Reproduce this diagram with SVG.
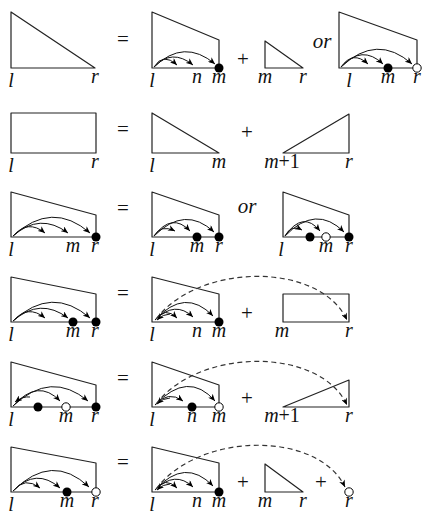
<svg xmlns="http://www.w3.org/2000/svg" width="423" height="519" viewBox="0 0 423 519">
<defs>
<style>
.sh{fill:none;stroke:#222;stroke-width:1.2;stroke-linejoin:round}
.arc{fill:none;stroke:#111;stroke-width:1;marker-end:url(#ah)}
.dash{fill:none;stroke:#333;stroke-width:1.2;stroke-dasharray:5 3.5;marker-end:url(#ah)}
.lb{font-family:"Liberation Serif",serif;font-style:italic;font-size:20px;text-anchor:middle;fill:#111}
.up{font-style:normal}
.op{font-family:"Liberation Serif",serif;font-size:21px;text-anchor:middle;fill:#111}
.or{font-family:"Liberation Serif",serif;font-style:italic;font-size:21px;text-anchor:middle;fill:#111}
.fd{fill:#000}
.od{fill:#fff;stroke:#000;stroke-width:1}
</style>
<marker id="ah" markerWidth="8" markerHeight="6" refX="7" refY="3" orient="auto" markerUnits="userSpaceOnUse"><path d="M0,0 L7,3 L0,6 L2,3 Z" fill="#000"/></marker>
</defs>
<rect width="423" height="519" fill="#fff"/>

<!-- Row 1 -->
<g id="r1-tri"><path class="sh" d="M11,12 L11,68 L95,68 Z"/><text class="lb" x="11" y="87">l</text><text class="lb" x="95" y="83">r</text></g>
<text class="op" x="123" y="46">=</text>
<g id="r1-trap"><path class="sh" d="M152,12 L152,68 L219,68 L219,40 Z"/><text class="lb" x="152" y="87">l</text><text class="lb" x="197" y="83">n</text><text class="lb" x="219" y="83">m</text></g>
<text class="op" x="243" y="66">+</text>
<g id="r1-small"><path class="sh" d="M265,41 L265,68 L303,68 Z"/><text class="lb" x="265" y="83">m</text><text class="lb" x="303" y="83">r</text></g>
<text class="or" x="322" y="48">or</text>
<g id="r1-trap2"><path class="sh" d="M339,12 L339,68 L417,68 L417,40 Z"/><text class="lb" x="349" y="87">l</text><text class="lb" x="388" y="83">m</text><text class="lb" x="417" y="83">r</text></g>

<!-- Row 2 -->
<g id="r2-rect"><rect class="sh" x="11" y="113" width="85" height="40"/><text class="lb" x="11" y="172">l</text><text class="lb" x="95" y="168">r</text></g>
<text class="op" x="123" y="136">=</text>
<g id="r2-tri"><path class="sh" d="M152,113 L152,153 L219,153 Z"/><text class="lb" x="152" y="172">l</text><text class="lb" x="219" y="168">m</text></g>
<text class="op" x="247" y="139">+</text>
<g id="r2-tri2"><path class="sh" d="M283,153 L349,153 L349,114 Z"/><text class="lb" x="282" y="168">m<tspan class="up">+1</tspan></text><text class="lb" x="349" y="168">r</text></g>

<!-- Row 3 -->
<g id="r3-trap"><path class="sh" d="M11,192 L11,237 L96,237 L96,215 Z"/><text class="lb" x="11" y="256">l</text><text class="lb" x="73" y="252">m</text><text class="lb" x="95" y="252">r</text></g>
<text class="op" x="123" y="215">=</text>
<g id="r3-trap2"><path class="sh" d="M152,192 L152,237 L219,237 L219,215 Z"/><text class="lb" x="152" y="256">l</text><text class="lb" x="197" y="252">m</text><text class="lb" x="219" y="252">r</text></g>
<text class="or" x="247" y="213">or</text>
<g id="r3-trap3"><path class="sh" d="M283,192 L283,237 L349,237 L349,215 Z"/><text class="lb" x="281" y="256">l</text><text class="lb" x="326" y="252">m</text><text class="lb" x="349" y="252">r</text></g>

<!-- Row 4 -->
<g id="r4-trap"><path class="sh" d="M11,277 L11,322 L96,322 L96,294 Z"/><text class="lb" x="11" y="341">l</text><text class="lb" x="73" y="337">m</text><text class="lb" x="95" y="337">r</text></g>
<text class="op" x="123" y="300">=</text>
<g id="r4-trap2"><path class="sh" d="M152,277 L152,322 L219,322 L219,294 Z"/><text class="lb" x="152" y="341">l</text><text class="lb" x="197" y="337">n</text><text class="lb" x="219" y="337">m</text></g>
<text class="op" x="247" y="320">+</text>
<g id="r4-rect"><rect class="sh" x="283" y="294" width="66" height="28"/><text class="lb" x="282" y="337">m</text><text class="lb" x="349" y="337">r</text></g>

<!-- Row 5 -->
<g id="r5-trap"><path class="sh" d="M11,362 L11,407 L96,407 L96,385 Z"/><text class="lb" x="11" y="426">l</text><text class="lb" x="66" y="422">m</text><text class="lb" x="95" y="422">r</text></g>
<text class="op" x="123" y="385">=</text>
<g id="r5-trap2"><path class="sh" d="M152,362 L152,407 L219,407 L219,385 Z"/><text class="lb" x="152" y="426">l</text><text class="lb" x="192" y="422">n</text><text class="lb" x="219" y="422">m</text></g>
<text class="op" x="247" y="405">+</text>
<g id="r5-tri"><path class="sh" d="M283,407 L349,407 L349,380 Z"/><text class="lb" x="282" y="422">m<tspan class="up">+1</tspan></text><text class="lb" x="349" y="422">r</text></g>

<!-- Row 6 -->
<g id="r6-trap"><path class="sh" d="M11,447 L11,492 L96,492 L96,463 Z"/><text class="lb" x="11" y="511">l</text><text class="lb" x="67" y="507">m</text><text class="lb" x="95" y="507">r</text></g>
<text class="op" x="123" y="469">=</text>
<g id="r6-trap2"><path class="sh" d="M152,447 L152,492 L219,492 L219,463 Z"/><text class="lb" x="152" y="511">l</text><text class="lb" x="197" y="507">n</text><text class="lb" x="219" y="507">m</text></g>
<text class="op" x="243" y="489">+</text>
<g id="r6-small"><path class="sh" d="M265,464 L265,492 L303,492 Z"/><text class="lb" x="265" y="507">m</text><text class="lb" x="303" y="507">r</text></g>
<text class="op" x="321" y="489">+</text>
<g id="r6-point"><text class="lb" x="349" y="507">r</text></g>

<g id="connectors">
<!-- row 1 -->
<path class="arc" d="M154,67 Q184,38 215,64"/>
<path class="arc" d="M154,67 Q172,48 193,65"/>
<path class="arc" d="M154,67 Q163,52 177,65"/>
<path class="arc" d="M341,67 Q377,33 412,64"/>
<path class="arc" d="M341,67 Q362,44 383,64"/>
<path class="arc" d="M341,67 Q353,50 368,64"/>
<!-- row 3 -->
<path class="arc" d="M13,236 Q52,200 90,233"/>
<path class="arc" d="M13,236 Q40,212 68,233"/>
<path class="arc" d="M13,236 Q28,219 45,233"/>
<path class="arc" d="M154,236 Q185,205 214,232"/>
<path class="arc" d="M154,236 Q172,212 190,231"/>
<path class="arc" d="M154,236 Q161,224 175,231"/>
<path class="arc" d="M285,236 Q316,204 344,232"/>
<path class="arc" d="M285,236 Q303,210 320,231"/>
<path class="arc" d="M285,236 Q291,224 302,230"/>
<!-- row 4 -->
<path class="arc" d="M13,321 Q52,285 90,318"/>
<path class="arc" d="M13,321 Q40,297 68,318"/>
<path class="arc" d="M13,321 Q28,304 45,318"/>
<path class="arc" d="M155,320 Q185,287 213,316"/>
<path class="arc" d="M155,320 Q175,300 193,317"/>
<path class="arc" d="M155,320 Q165,306 177,318"/>
<path class="arc" d="M170,314 Q163,314 157,320"/>
<path class="dash" d="M156,319 C200,262 320,262 347,320"/>
<!-- row 5 -->
<path class="arc" d="M13,406 Q51,370 88,401"/>
<path class="arc" d="M13,406 Q38,378 60,401"/>
<path class="arc" d="M30,397 Q23,396 15,402"/>
<path class="arc" d="M155,405 Q188,370 215,401"/>
<path class="arc" d="M155,405 Q168,390 183,401"/>
<path class="arc" d="M170,398 Q163,398 157,404"/>
<path class="dash" d="M156,404 C200,347 320,347 347,405"/>
<!-- row 6 -->
<path class="arc" d="M13,491 Q52,452 89,487"/>
<path class="arc" d="M13,491 Q36,467 60,488"/>
<path class="arc" d="M13,491 Q25,476 40,488"/>
<path class="arc" d="M155,490 Q185,457 213,486"/>
<path class="arc" d="M155,490 Q175,470 193,487"/>
<path class="arc" d="M155,490 Q165,476 177,488"/>
<path class="arc" d="M170,484 Q163,484 157,490"/>
<path class="dash" d="M156,489 C200,431 318,431 345,487"/>
</g>

<g id="points">
<circle class="fd" cx="219" cy="68" r="4.5"/>
<circle class="fd" cx="388" cy="68" r="4.5"/>
<circle class="od" cx="417" cy="68" r="4.2"/>
<circle class="fd" cx="96" cy="237" r="4.5"/>
<circle class="fd" cx="197" cy="237" r="4.5"/>
<circle class="fd" cx="219" cy="237" r="4.5"/>
<circle class="fd" cx="310" cy="237" r="4.5"/>
<circle class="od" cx="326" cy="237" r="4.2"/>
<circle class="fd" cx="349" cy="237" r="4.5"/>
<circle class="fd" cx="73" cy="322" r="4.5"/>
<circle class="fd" cx="96" cy="322" r="4.5"/>
<circle class="fd" cx="219" cy="322" r="4.5"/>
<circle class="fd" cx="38" cy="407" r="4.5"/>
<circle class="od" cx="66" cy="407" r="4.2"/>
<circle class="fd" cx="96" cy="407" r="4.5"/>
<circle class="fd" cx="192" cy="407" r="4.5"/>
<circle class="od" cx="219" cy="407" r="4.2"/>
<circle class="fd" cx="67" cy="492" r="4.5"/>
<circle class="od" cx="96" cy="492" r="4.2"/>
<circle class="fd" cx="219" cy="492" r="4.5"/>
<circle class="od" cx="349" cy="492" r="4.2"/>
</g>
</svg>
